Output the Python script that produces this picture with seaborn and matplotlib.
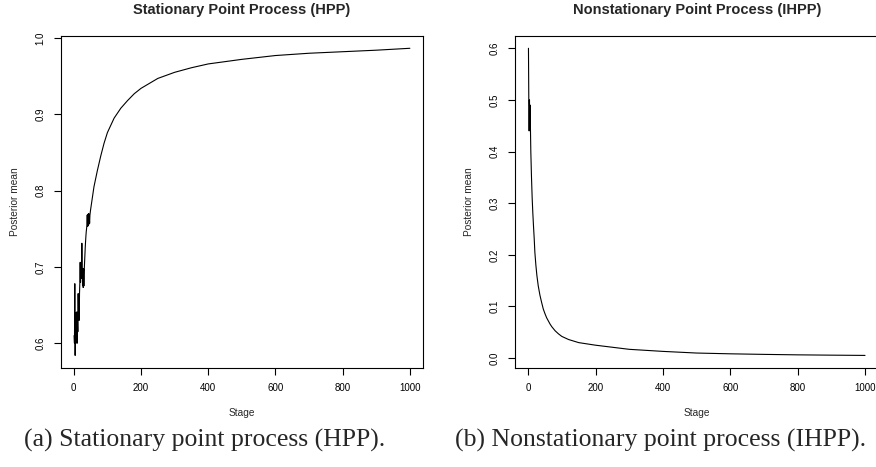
import numpy as np
import pandas as pd
import seaborn as sns
from matplotlib import pyplot as plt

# HPP posterior mean
hpp_stage = list(range(1, 49)) + [50, 60, 70, 80, 90, 100, 120, 140, 160, 180, 200,
                                  250, 300, 350, 400, 500, 600, 700, 800, 900, 1000]
hpp_mean = [0.61, 0.60, 0.678, 0.584, 0.625, 0.60, 0.64, 0.61, 0.641, 0.60,
            0.635, 0.615, 0.665, 0.632, 0.66, 0.63, 0.665, 0.68, 0.706, 0.68,
            0.705, 0.685, 0.70, 0.731, 0.70, 0.676, 0.698, 0.673, 0.697, 0.675,
            0.695, 0.705, 0.715, 0.725, 0.733, 0.74, 0.746, 0.75, 0.755, 0.768,
            0.753, 0.769, 0.754, 0.77, 0.756, 0.769, 0.757, 0.768,
            0.775, 0.805, 0.826, 0.845, 0.862, 0.876, 0.895, 0.908, 0.918, 0.927,
            0.934, 0.947, 0.955, 0.961, 0.966, 0.972, 0.977, 0.980, 0.982, 0.984,
            0.9865]

# IHPP posterior mean
ihpp_stage = [1, 2, 3, 4, 5, 6, 7, 8, 9, 10, 11, 12, 14, 16, 18, 20, 23, 26, 30,
              35, 40, 45, 50, 55, 60, 65, 70, 80, 90, 100, 120, 150, 200, 250,
              300, 400, 500, 600, 700, 800, 900, 1000]
ihpp_mean = [0.60, 0.50, 0.44, 0.50, 0.45, 0.49, 0.44, 0.40, 0.375, 0.35, 0.33,
             0.31, 0.28, 0.255, 0.232, 0.205, 0.18, 0.16, 0.14, 0.122, 0.108,
             0.095, 0.086, 0.078, 0.072, 0.066, 0.061, 0.053, 0.047, 0.042,
             0.036, 0.030, 0.025, 0.021, 0.017, 0.013, 0.0098, 0.0083, 0.0072,
             0.0063, 0.0057, 0.0052]

x_ticks = [0, 200, 400, 600, 800, 1000]
hpp_yticks = [0.6, 0.7, 0.8, 0.9, 1.0]
ihpp_yticks = [0.0, 0.1, 0.2, 0.3, 0.4, 0.5, 0.6]

titles = ["Stationary Point Process (HPP)", "Nonstationary Point Process (IHPP)"]
captions = ["(a) Stationary point process (HPP).", "(b) Nonstationary point process (IHPP)."]

sns.set_style("ticks")
plt.rcParams["font.family"] = ["Liberation Sans", "DejaVu Sans"]


def r_lim(vals):
    # R style 4% padding around the data range
    lo, hi = min(vals), max(vals)
    pad = 0.04 * (hi - lo)
    return lo - pad, hi + pad


fig = plt.figure(figsize=(8.76, 4.67), dpi=100)
ax1 = fig.add_axes([60.7 / 876, 1 - 367.7 / 467, 362.6 / 876, 331.7 / 467])
ax2 = fig.add_axes([515 / 876, 1 - 367.7 / 467, 363.5 / 876, 331.7 / 467])

panels = [
    (ax1, hpp_stage, hpp_mean, hpp_yticks),
    (ax2, ihpp_stage, ihpp_mean, ihpp_yticks),
]

for i, (ax, stage, mean, yticks) in enumerate(panels):
    df = pd.DataFrame({"Stage": stage, "Posterior mean": mean})
    sns.lineplot(data=df, x="Stage", y="Posterior mean", ax=ax, color="black",
                 linewidth=0.8, sort=False, estimator=None)
    ax.set_xlim(r_lim(stage))
    ax.set_ylim(r_lim(mean))
    ax.set_xticks(x_ticks)
    ax.set_yticks(yticks)
    ax.set_yticklabels([f"{v:.1f}" for v in yticks], rotation=90, va="center")
    ax.tick_params(direction="out", length=5, width=0.8, labelsize=7, pad=6,
                   colors="black")
    for s in ax.spines.values():
        s.set_visible(True)
        s.set_linewidth(0.8)
        s.set_color("black")
    ax.set_xlabel("Stage", fontsize=7.3, labelpad=11)
    ax.set_ylabel("Posterior mean", fontsize=7.3, labelpad=11)
    ax.set_title(titles[i], fontsize=10.5, fontweight="bold", pad=16)

fig.text(205 / 876, 1 - 440 / 467, captions[0], ha="center", va="center",
         fontsize=18.5, family="Liberation Serif")
fig.text(661 / 876, 1 - 440 / 467, captions[1], ha="center", va="center",
         fontsize=18.5, family="Liberation Serif")

fig.savefig("out.png", dpi=100)
